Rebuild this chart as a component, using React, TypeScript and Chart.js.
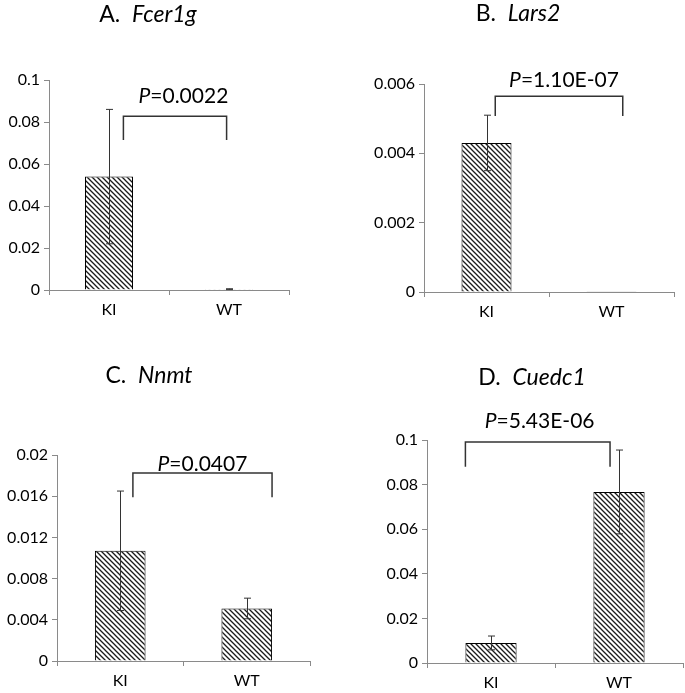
import React, { useEffect, useRef } from 'react';
import { Chart, registerables } from 'chart.js';
Chart.register(...registerables);

const FONT = 'Lato, "Open Sans", "DejaVu Sans", sans-serif';
const AXIS = '#8a8a8a';

const categories = ['KI', 'WT'];

// Panel A – Fcer1g
const aValues = [0.054, 0.0004];
const aErrors = [0.032, 0.0002];
const aTicks = ['0', '0.02', '0.04', '0.06', '0.08', '0.1'];
// Panel B – Lars2
const bValues = [0.0043, 0.00001];
const bErrors = [0.0008, 0];
const bTicks = ['0', '0.002', '0.004', '0.006'];
// Panel C – Nnmt
const cValues = [0.0107, 0.0051];
const cErrors = [0.0058, 0.001];
const cTicks = ['0', '0.004', '0.008', '0.012', '0.016', '0.02'];
// Panel D – Cuedc1
const dValues = [0.009, 0.0767];
const dErrors = [0.0031, 0.0188];
const dTicks = ['0', '0.02', '0.04', '0.06', '0.08', '0.1'];

type Panel = {
  letter: string; gene: string;
  values: number[]; errors: number[]; ticks: string[];
  max: number; step: number;
  pLabel: string;
  bracket: { from: number; to: number; top: number; end: number; textX: number; textY: number };
  box: { left: number; top: number; width: number; height: number };
  area: { left: number; right: number; top: number; bottom: number };
  title: { x: number; y: number };
};

const panels: Panel[] = [
  {
    letter: 'A.', gene: 'Fcer1g', values: aValues, errors: aErrors, ticks: aTicks, max: 0.1, step: 0.02,
    pLabel: '=0.0022',
    bracket: { from: 0.12, to: 0.98, top: 0.0827, end: 0.0714, textX: 0.62, textY: 0.089 },
    box: { left: 0, top: 0, width: 342, height: 340 },
    area: { left: 49, right: 289, top: 80, bottom: 290 },
    title: { x: 148, y: 22 },
  },
  {
    letter: 'B.', gene: 'Lars2', values: bValues, errors: bErrors, ticks: bTicks, max: 0.006, step: 0.002,
    pLabel: '=1.10E-07',
    bracket: { from: 0.07, to: 1.09, top: 0.00565, end: 0.00508, textX: 0.62, textY: 0.00591 },
    box: { left: 342, top: 0, width: 343, height: 340 },
    area: { left: 424, right: 674, top: 84, bottom: 292 },
    title: { x: 518, y: 21 },
  },
  {
    letter: 'C.', gene: 'Nnmt', values: cValues, errors: cErrors, ticks: cTicks, max: 0.02, step: 0.004,
    pLabel: '=0.0407',
    bracket: { from: 0.1, to: 1.2, top: 0.01825, end: 0.0159, textX: 0.65, textY: 0.01845 },
    box: { left: 0, top: 340, width: 342, height: 353 },
    area: { left: 57, right: 310, top: 455, bottom: 661 },
    title: { x: 149, y: 383 },
  },
  {
    letter: 'D.', gene: 'Cuedc1', values: dValues, errors: dErrors, ticks: dTicks, max: 0.1, step: 0.02,
    pLabel: '=5.43E-06',
    bracket: { from: -0.2, to: 0.93, top: 0.0991, end: 0.088, textX: 0.38, textY: 0.1054 },
    box: { left: 342, top: 340, width: 343, height: 353 },
    area: { left: 427, right: 683, top: 440, bottom: 663 },
    title: { x: 532, y: 385 },
  },
];

function makeHatch(): CanvasPattern | string {
  const c = document.createElement('canvas');
  c.width = 5; c.height = 5;
  const g = c.getContext('2d');
  if (!g) return '#fff';
  g.fillStyle = '#fff';
  g.fillRect(0, 0, 5, 5);
  g.strokeStyle = '#1a1a1a';
  g.lineWidth = 1.3;
  g.beginPath();
  g.moveTo(-1, -1); g.lineTo(6, 6);
  g.moveTo(-1, 4); g.lineTo(1, 6);
  g.moveTo(4, -1); g.lineTo(6, 1);
  g.stroke();
  const p = g.createPattern(c, 'repeat');
  return p || '#fff';
}

function PanelChart({ p }: { p: Panel }) {
  const ref = useRef<HTMLCanvasElement>(null);
  useEffect(() => {
    const canvas = ref.current;
    if (!canvas) return;
    const yw = p.area.left - p.box.left;
    const padTop = p.area.top - p.box.top;
    const padRight = p.box.left + p.box.width - p.area.right;
    const xh = p.box.top + p.box.height - p.area.bottom;

    const overlay = {
      id: 'overlay',
      afterDatasetsDraw(chart: any) {
        const ctx = chart.ctx;
        const xs = chart.scales.x;
        const ys = chart.scales.y;
        const meta = chart.getDatasetMeta(0);
        ctx.save();
        // error bars
        ctx.strokeStyle = '#333';
        ctx.lineWidth = 1;
        p.values.forEach((v, i) => {
          const e = p.errors[i];
          if (!e) return;
          const x = Math.round(meta.data[i].x) + 0.5;
          const yt = ys.getPixelForValue(v + e);
          const yb = ys.getPixelForValue(v - e);
          ctx.beginPath();
          ctx.moveTo(x, yt); ctx.lineTo(x, yb);
          ctx.moveTo(x - 3.5, yt); ctx.lineTo(x + 3.5, yt);
          ctx.moveTo(x - 3.5, yb); ctx.lineTo(x + 3.5, yb);
          ctx.stroke();
        });
        // bracket
        const b = p.bracket;
        const x1 = xs.getPixelForValue(b.from);
        const x2 = xs.getPixelForValue(b.to);
        const yTop = ys.getPixelForValue(b.top);
        const yEnd = ys.getPixelForValue(b.end);
        ctx.strokeStyle = '#333';
        ctx.lineWidth = 1.5;
        ctx.beginPath();
        ctx.moveTo(x1, yEnd); ctx.lineTo(x1, yTop); ctx.lineTo(x2, yTop); ctx.lineTo(x2, yEnd);
        ctx.stroke();
        // P label
        ctx.fillStyle = '#000';
        ctx.textBaseline = 'alphabetic';
        ctx.textAlign = 'left';
        const italic = `italic 21px ${FONT}`;
        const normal = `21px ${FONT}`;
        ctx.font = italic;
        const wP = ctx.measureText('P').width;
        ctx.font = normal;
        const wR = ctx.measureText(p.pLabel).width;
        const cx = xs.getPixelForValue(b.textX);
        const ty = ys.getPixelForValue(b.textY);
        const sx = cx - (wP + wR) / 2;
        ctx.font = italic;
        ctx.fillText('P', sx, ty);
        ctx.font = normal;
        ctx.fillText(p.pLabel, sx + wP, ty);
        // title
        const tItalic = `italic 23px ${FONT}`;
        const tNormal = `23px ${FONT}`;
        const tx = p.title.x - p.box.left;
        const tty = p.title.y - p.box.top;
        ctx.font = tNormal;
        const lw = ctx.measureText(p.letter + '  ').width;
        ctx.font = tItalic;
        const gw = ctx.measureText(p.gene).width;
        const tsx = tx - (lw + gw) / 2;
        ctx.font = tNormal;
        ctx.fillText(p.letter, tsx, tty);
        ctx.font = tItalic;
        ctx.fillText(p.gene, tsx + lw, tty);
        ctx.restore();
      },
    };

    const hatch = makeHatch();
    const chart = new Chart(canvas, {
      type: 'bar',
      data: {
        labels: categories,
        datasets: [{
          data: p.values,
          backgroundColor: hatch as any,
          borderColor: '#000',
          borderWidth: 1,
          barPercentage: 0.4,
          categoryPercentage: 1,
        }],
      },
      options: {
        animation: false,
        responsive: false,
        maintainAspectRatio: false,
        layout: { padding: { top: padTop, right: padRight, left: 0, bottom: 0 } },
        plugins: { legend: { display: false }, tooltip: { enabled: false }, title: { display: false } },
        scales: {
          x: {
            grid: { drawOnChartArea: false, tickLength: 5, color: AXIS, offset: true },
            border: { color: AXIS },
            ticks: { color: '#000', font: { family: FONT, size: 16 }, padding: 5 },
            afterFit: (s: any) => { s.height = xh; },
          },
          y: {
            min: 0, max: p.max,
            grid: { drawOnChartArea: false, tickLength: 5, color: AXIS },
            border: { color: AXIS },
            ticks: {
              stepSize: p.step, color: '#000', font: { family: FONT, size: 16 }, padding: 4,
              callback: (_v: any, i: number) => p.ticks[i],
            },
            afterFit: (s: any) => { s.width = yw; },
          },
        },
      },
      plugins: [overlay],
    } as any);
    return () => chart.destroy();
  }, [p]);
  return (
    <canvas
      ref={ref}
      width={p.box.width}
      height={p.box.height}
      style={{ position: 'absolute', left: p.box.left, top: p.box.top, width: p.box.width, height: p.box.height }}
    />
  );
}

export default function App() {
  return (
    <div style={{ position: 'absolute', left: 0, top: 0, width: 685, height: 693, background: '#fff' }}>
      {panels.map((p) => <PanelChart key={p.letter} p={p} />)}
    </div>
  );
}
